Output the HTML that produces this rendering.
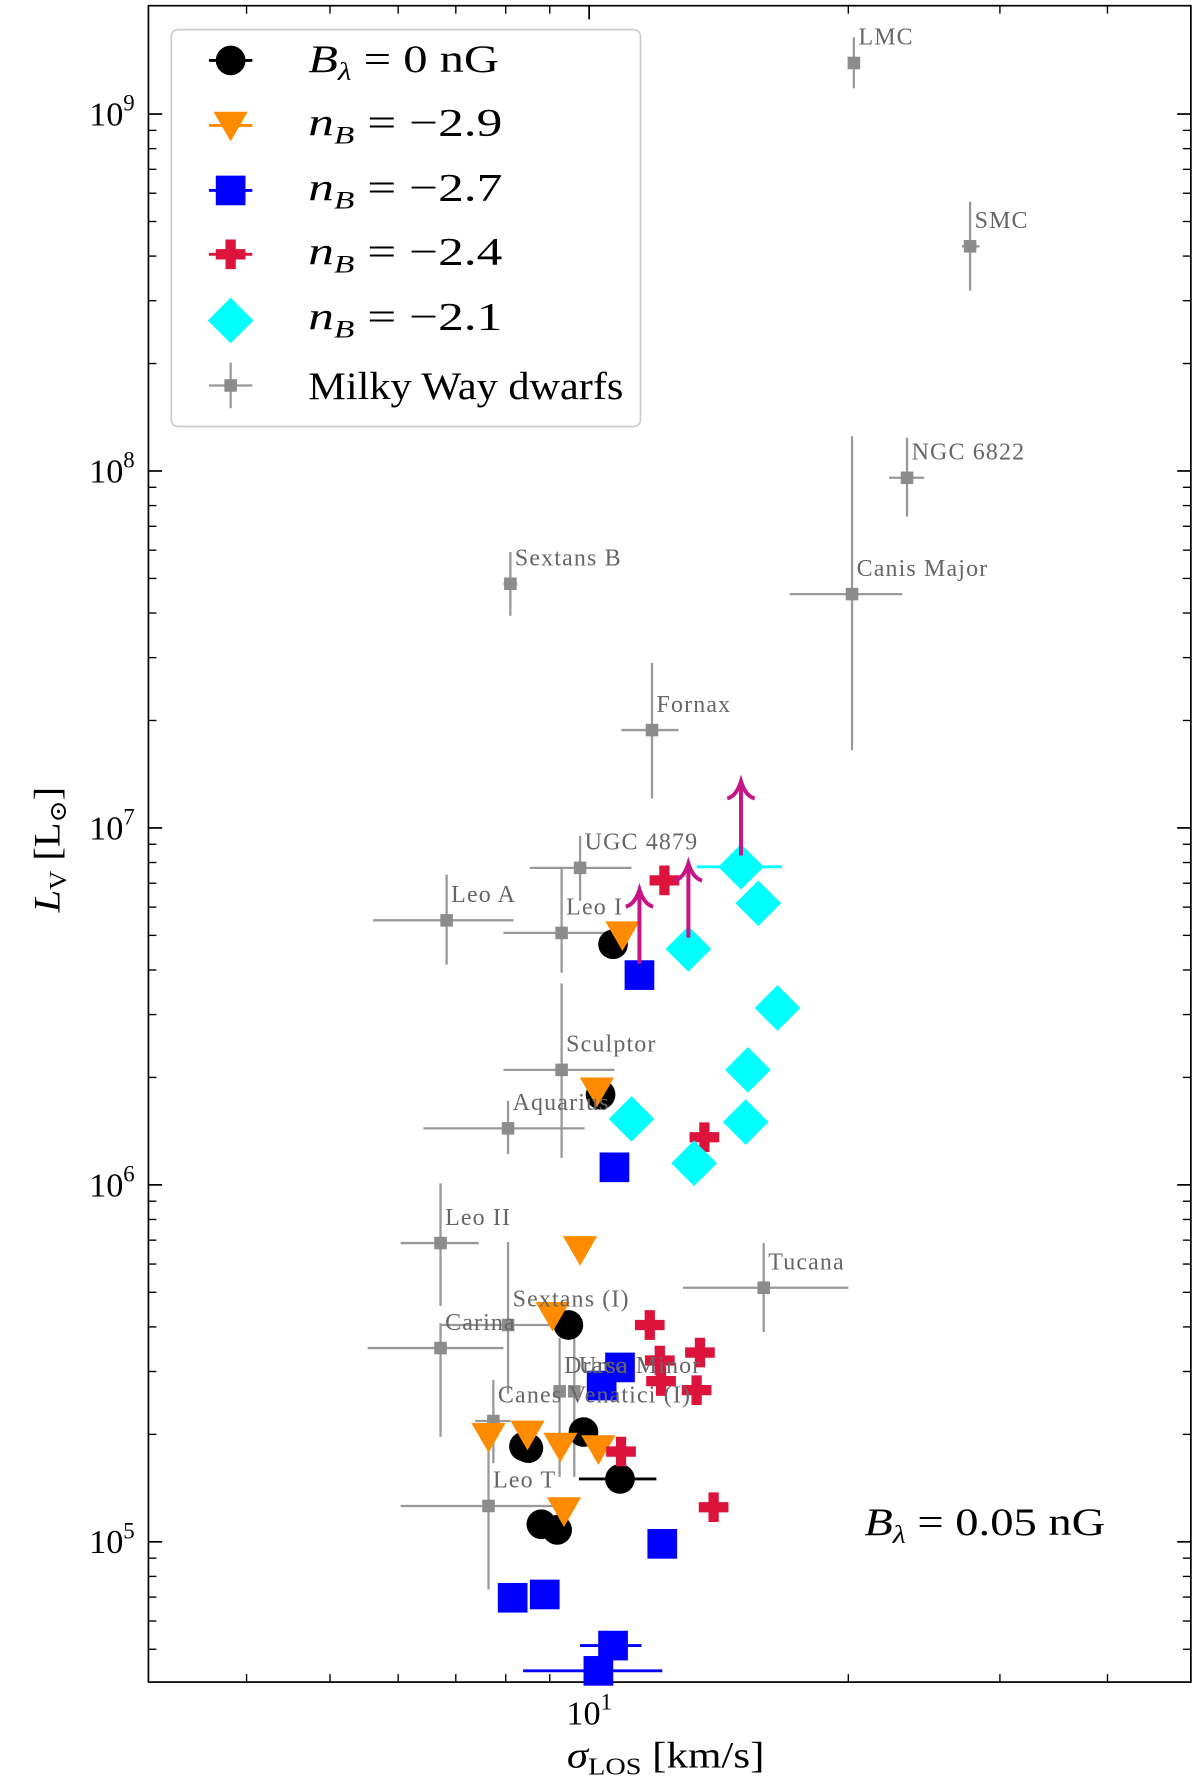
<!DOCTYPE html>
<html><head><meta charset="utf-8"><style>
html,body{margin:0;padding:0;background:#fff;}
svg{display:block;}
text{font-family:"Liberation Serif","DejaVu Serif",serif;}
</style></head><body>
<svg id="chart" xmlns="http://www.w3.org/2000/svg" width="1200" height="1787" viewBox="0 0 1051 1567" preserveAspectRatio="none">
<rect x="130" y="5" width="913" height="1470" fill="#fff" stroke="#000" stroke-width="1.5"/>
<g id="ticks"></g>
<g id="dwarfs"></g>
<g id="sims"></g>
<g id="labels"></g>
<g id="legend">
<rect x="150" y="26" width="411" height="348" rx="6" fill="#fff" fill-opacity="0.85" stroke="#ccc" stroke-width="1.5"/>
<text x="270" y="63" font-size="34" textLength="167" lengthAdjust="spacingAndGlyphs"><tspan font-style="italic">B</tspan><tspan font-size="22" dy="7" font-style="italic">λ</tspan><tspan dy="-7"> = 0 nG</tspan></text>
<text x="270" y="119" font-size="34" textLength="170" lengthAdjust="spacingAndGlyphs"><tspan font-style="italic">n</tspan><tspan font-size="22" dy="7" font-style="italic">B</tspan><tspan dy="-7"> = −2.9</tspan></text>
<text x="270" y="176" font-size="34" textLength="170" lengthAdjust="spacingAndGlyphs"><tspan font-style="italic">n</tspan><tspan font-size="22" dy="7" font-style="italic">B</tspan><tspan dy="-7"> = −2.7</tspan></text>
<text x="270" y="232" font-size="34" textLength="170" lengthAdjust="spacingAndGlyphs"><tspan font-style="italic">n</tspan><tspan font-size="22" dy="7" font-style="italic">B</tspan><tspan dy="-7"> = −2.4</tspan></text>
<text x="270" y="289" font-size="34" textLength="170" lengthAdjust="spacingAndGlyphs"><tspan font-style="italic">n</tspan><tspan font-size="22" dy="7" font-style="italic">B</tspan><tspan dy="-7"> = −2.1</tspan></text>
<text x="270" y="350" font-size="34" textLength="276" lengthAdjust="spacingAndGlyphs">Milky Way dwarfs</text>
</g>
<text x="757" y="1346" font-size="34" textLength="211" lengthAdjust="spacingAndGlyphs"><tspan font-style="italic">B</tspan><tspan font-size="22" dy="7" font-style="italic">λ</tspan><tspan dy="-7"> = 0.05 nG</tspan></text>
<text transform="translate(52,745) rotate(-90)" text-anchor="middle" font-size="32" textLength="110" lengthAdjust="spacingAndGlyphs"><tspan font-style="italic">L</tspan><tspan font-size="21" dy="6">V</tspan><tspan dy="-6"> [L</tspan><tspan font-size="21" dy="6">⊙</tspan><tspan dy="-6">]</tspan></text>
<text x="583" y="1550" text-anchor="middle" font-size="32" textLength="173" lengthAdjust="spacingAndGlyphs"><tspan font-style="italic">σ</tspan><tspan font-size="21" dy="6">LOS</tspan><tspan dy="-6"> [km/s]</tspan></text>
</svg>
<script>
const NS="http://www.w3.org/2000/svg";
// Milky Way dwarfs
const dwarfNames=["LMC","SMC","NGC 6822","Canis Major","Sextans B","Fornax","UGC 4879","Leo A","Leo I","Sculptor","Aquarius","Leo II","Carina","Sextans (I)","Draco","Ursa Minor","Canes Venatici (I)","Leo T","Tucana"];
const dwarfSigma=[20.3,27.7,23.4,20.2,8.10,11.83,9.76,6.83,9.29,9.29,8.05,6.72,6.72,8.05,9.24,9.61,7.74,7.64,15.95];
const dwarfSigmaLo=[20.0,27.1,22.3,17.1,7.95,10.9,8.53,5.61,7.95,7.95,6.42,6.04,5.53,6.74,9.24,9.61,7.37,6.04,12.85];
const dwarfSigmaHi=[20.6,28.4,24.5,23.1,8.25,12.7,11.2,8.17,10.6,10.7,9.88,7.44,7.95,9.21,9.24,9.61,8.10,9.12,20.0];
const dwarfL=[1.39e9,4.26e8,9.57e7,4.52e7,4.83e7,1.88e7,7.73e6,5.51e6,5.08e6,2.10e6,1.44e6,6.87e5,3.49e5,4.05e5,2.64e5,2.64e5,2.18e5,1.26e5,5.15e5];
const dwarfLLo=[1.18e9,3.20e8,7.45e7,1.65e7,3.93e7,1.21e7,6.25e6,4.14e6,3.93e6,1.19e6,1.22e6,4.58e5,1.97e5,2.60e5,1.52e5,1.52e5,1.66e5,7.35e4,3.87e5];
const dwarfLHi=[1.64e9,5.68e8,1.24e8,1.25e8,5.93e7,2.90e7,9.5e6,7.40e6,7.78e6,3.67e6,1.72e6,1.01e6,4.10e5,6.92e5,3.73e5,3.73e5,2.84e5,2.18e5,6.87e5];
// Simulations
const b0Sigma=[10.66,10.31,9.46,8.40,8.50,9.85,10.86,8.80,9.18];
const b0L=[4.72e6,1.79e6,4.05e5,1.85e5,1.83e5,2.03e5,1.50e5,1.12e5,1.08e5];
const n29Sigma=[10.93,10.21,9.76,9.07,7.64,8.48,9.26,10.25,9.35];
const n29L=[5.01e6,1.83e6,6.58e5,4.30e5,1.97e5,2.00e5,1.85e5,1.82e5,1.22e5];
const n27Sigma=[11.44,10.70,10.86,10.34,12.16,8.15,8.88,10.66,10.25];
const n27L=[3.87e6,1.12e6,3.08e5,2.74e5,9.87e4,6.97e4,7.12e4,5.12e4,4.35e4];
const n24Sigma=[12.23,13.61,11.76,12.08,13.45,12.12,13.33,10.89,13.95];
const n24L=[7.13e6,1.36e6,4.05e5,3.22e5,3.39e5,2.82e5,2.66e5,1.79e5,1.25e5];
const n21Sigma=[15.01,15.72,13.04,16.55,15.29,11.20,15.20,13.24];
const n21L=[7.78e6,6.15e6,4.58e6,3.13e6,2.10e6,1.53e6,1.50e6,1.15e6];
// x error bars on some simulated points
const simXErrSeries=["b0","n27","n27","n21"];
const simXErrIndex=[6,7,8,0];
const simXErrLo=[9.73,9.76,8.38,13.33];
const simXErrHi=[11.97,11.5,12.16,16.75];
// lower-limit arrows
const limitSigma=[11.44,13.04,15.01];
const limitL=[3.87e6,4.58e6,7.78e6];
const yMajor=[1e5,1e6,1e7,1e8,1e9];
const yMajorExp=["5","6","7","8","9"];
const xMinorTicks=[4,5,6,7,8,9,20,30,40];

function X(s){return 516+754*(Math.log10(s)-1);}
function Y(L){return 100+313*(9-Math.log10(L));}
function mk(tag,attrs,parent){const e=document.createElementNS(NS,tag);for(const k in attrs)e.setAttribute(k,attrs[k]);parent.appendChild(e);return e;}

const tg=document.getElementById('ticks');
for(let i=0;i<yMajor.length;i++){
  const y=Y(yMajor[i]);
  let t=mk('line',{x1:130,x2:142,y1:y,y2:y,stroke:'#000','stroke-width':1.5},tg);
  
  
  t=mk('line',{x1:1031,x2:1043,y1:y,y2:y,stroke:'#000','stroke-width':1.5},tg);
  
  
  const lab=mk('text',{x:118,y:y+10,'text-anchor':'end','font-size':30},tg);
  
  
  lab.innerHTML='10<tspan font-size="20" dy="-13">'+yMajorExp[i]+'</tspan>';
}
for(let d=4;d<=9;d++){for(let k=2;k<=9;k++){const v=k*Math.pow(10,d);const y=Y(v);if(y<6||y>1474)continue;
  let t=mk('line',{x1:130,x2:137,y1:y,y2:y,stroke:'#000','stroke-width':1.2},tg);
  
  
  t=mk('line',{x1:1036,x2:1043,y1:y,y2:y,stroke:'#000','stroke-width':1.2},tg);
  
  
}}
{const x=X(10);
 let t=mk('line',{x1:x,x2:x,y1:1463,y2:1475,stroke:'#000','stroke-width':1.5},tg);
 
 
 t=mk('line',{x1:x,x2:x,y1:5,y2:17,stroke:'#000','stroke-width':1.5},tg);
 
 
 const lab=mk('text',{x:x,y:1512,'text-anchor':'middle','font-size':30},tg);
 
 
 lab.innerHTML='10<tspan font-size="20" dy="-13">1</tspan>';
}
for(const v of xMinorTicks){const x=X(v);
 let t=mk('line',{x1:x,x2:x,y1:1468,y2:1475,stroke:'#000','stroke-width':1.2},tg);
 
 
 t=mk('line',{x1:x,x2:x,y1:5,y2:12,stroke:'#000','stroke-width':1.2},tg);
 
 
}

const dg=document.getElementById('dwarfs');
const lg=document.getElementById('labels');
for(let i=0;i<dwarfNames.length;i++){
  const cx=X(dwarfSigma[i]),cy=Y(dwarfL[i]);
  let e=mk('line',{x1:X(dwarfSigmaLo[i]),x2:X(dwarfSigmaHi[i]),y1:cy,y2:cy,stroke:'#999','stroke-width':2},dg);
  
  
  e=mk('line',{x1:cx,x2:cx,y1:Y(dwarfLLo[i]),y2:Y(dwarfLHi[i]),stroke:'#999','stroke-width':2},dg);
  
  
  e=mk('rect',{x:cx-5.5,y:cy-5.5,width:11,height:11,fill:'#8c8c8c'},dg);
  
  
  const t=mk('text',{x:cx+4,y:cy-16,'font-size':21,'letter-spacing':1,fill:'#666'},lg);
  
  
  t.textContent=dwarfNames[i];
}

function marker(type,x,y,parent){
  let e;
  if(type==='b0') e=mk('circle',{cx:x,cy:y,r:13,fill:'#000'},parent);
  else if(type==='n29') e=mk('polygon',{points:`${x-15},${y-12} ${x+15},${y-12} ${x},${y+14}`,fill:'#ff8c00'},parent);
  else if(type==='n27') e=mk('rect',{x:x-13,y:y-13,width:26,height:26,fill:'#0000ff'},parent);
  else if(type==='n24') e=mk('path',{d:`M${x-4.5},${y-13}h9v8.5h8.5v9h-8.5v8.5h-9v-8.5h-8.5v-9h8.5z`,fill:'#dc143c'},parent);
  else if(type==='n21') e=mk('polygon',{points:`${x},${y-20} ${x+20},${y} ${x},${y+20} ${x-20},${y}`,fill:'#00ffff'},parent);
  return e;
}
const colors={b0:'#000',n29:'#ff8c00',n27:'#0000ff',n24:'#dc143c',n21:'#00ffff'};
const sg=document.getElementById('sims');
const seriesS={b0:b0Sigma,n29:n29Sigma,n27:n27Sigma,n24:n24Sigma,n21:n21Sigma};
const seriesL={b0:b0L,n29:n29L,n27:n27L,n24:n24L,n21:n21L};
for(let j=0;j<simXErrSeries.length;j++){
  const s=simXErrSeries[j];const y=Y(seriesL[s][simXErrIndex[j]]);
  const e=mk('line',{x1:X(simXErrLo[j]),x2:X(simXErrHi[j]),y1:y,y2:y,stroke:colors[s],'stroke-width':2.5},sg);
  
  
}
for(const s of ['b0','n29','n27','n24','n21']){
  const S=seriesS[s],L=seriesL[s];
  for(let i=0;i<S.length;i++){
    const e=marker(s,X(S[i]),Y(L[i]),sg);
    
    
  }
}
for(let i=0;i<limitSigma.length;i++){
  const x=X(limitSigma[i]),y=Y(limitL[i]);
  const e=mk('path',{d:`M${x},${y-10}V${y-75}M${x-12},${y-60}Q${x-4},${y-62} ${x},${y-75}Q${x+4},${y-62} ${x+12},${y-60}`,fill:'none',stroke:'#c71585','stroke-width':3.5},sg);
  
  
}

// legend markers
const leg=document.getElementById('legend');
const legTypes=['b0','n29','n27','n24','n21'];
const legY=[53,110,167,223,281];
for(let i=0;i<legTypes.length;i++){
  const l=mk('line',{x1:183,x2:221,y1:legY[i],y2:legY[i],stroke:colors[legTypes[i]],'stroke-width':2.5},leg);
  
  
  const m=marker(legTypes[i],202,legY[i],leg);
  
  
}
{let e=mk('line',{x1:183,x2:221,y1:338,y2:338,stroke:'#999','stroke-width':2},leg);
 
 
 e=mk('line',{x1:202,x2:202,y1:318,y2:358,stroke:'#999','stroke-width':2},leg);
 
 
 e=mk('rect',{x:196.5,y:332.5,width:11,height:11,fill:'#8c8c8c'},leg);
 
 
}
</script>
</body></html>
